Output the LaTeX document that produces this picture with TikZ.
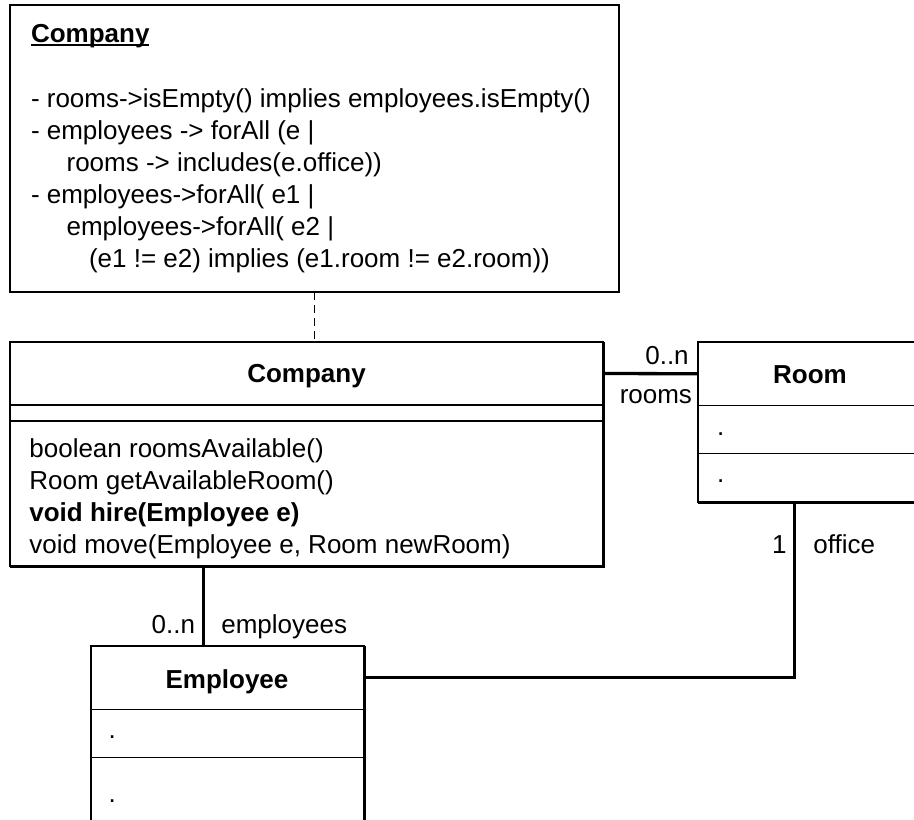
\documentclass[tikz,border=0pt]{standalone}
\usepackage{fontspec}
\setmainfont{Liberation Sans}
\begin{document}
\begin{tikzpicture}[x=1pt,y=-1pt,
  every node/.style={inner sep=0pt, outer sep=0pt, font=\fontsize{26}{32}\selectfont},
  frame/.style={draw, line width=1.8pt, anchor=north west},
  comp/.style={anchor=north west},
  sepline/.style={line width=1.4pt},
  heavy/.style={line width=3pt},
  assoc/.style={line width=3.3pt},
  dashline/.style={line width=1.6pt, dash pattern=on 8pt off 5pt},
  txt/.style={anchor=base west},
  ttl/.style={anchor=base, font=\fontsize{26}{32}\selectfont\bfseries}]
\useasboundingbox (0,0) rectangle (914,820);
\clip (0,0) rectangle (914,820);

% ---------- note ----------
\node[frame, minimum width=609pt, minimum height=287pt] (note) at (10,5) {};
\node[txt, font=\fontsize{26}{32}\selectfont\bfseries] (nt) at (31,42) {Company};
\draw[line width=2pt] ([yshift=-2.5pt]nt.base west) -- ([yshift=-2.5pt]nt.base east);
\node[txt] (n1) at (31,107) {- rooms->isEmpty() implies employees.isEmpty()};
\node[txt] (n2) at (31,139) {- employees -> forAll (e |};
\node[txt] (n3) at (66.6,171) {rooms -> includes(e.office))};
\node[txt] (n4) at (31,203) {- employees->forAll( e1 |};
\node[txt] (n5) at (66.6,235) {employees->forAll( e2 |};
\node[txt] (n6) at (89,267) {(e1 != e2) implies (e1.room != e2.room))};

% ---------- Company class ----------
\node[frame, minimum width=593pt, minimum height=224pt] (company) at (10,342) {};
\node[comp, minimum width=593pt, minimum height=63pt] (ct) at (10,342) {};
\node[comp, minimum width=593pt, minimum height=16pt] (ca) at (ct.south west) {};
\draw[sepline] (ct.south west) -- (ct.south east);
\draw[sepline] (ca.south west) -- (ca.south east);
\draw[heavy] ([xshift=0.6pt]company.north east) -- ([xshift=0.6pt,yshift=-0.6pt]company.south east) -- ([yshift=-0.6pt]company.south west);
\node[ttl] (ctitle) at (306.5,382) {Company};
\node[txt] (c1) at (29.4,457) {boolean roomsAvailable()};
\node[txt] (c2) at (29.4,489) {Room getAvailableRoom()};
\node[txt, font=\fontsize{26}{32}\selectfont\bfseries] (c3) at (29.4,521) {void hire(Employee e)};
\node[txt] (c4) at (29.4,553) {void move(Employee e, Room newRoom)};

% ---------- Room class ----------
\node[frame, minimum width=224pt, minimum height=160pt] (room) at (698,342) {};
\node[comp, minimum width=224pt, minimum height=63.5pt] (rt) at (698,342) {};
\node[comp, minimum width=224pt, minimum height=48pt] (ra) at (rt.south west) {};
\draw[sepline] (rt.south west) -- (rt.south east);
\draw[sepline] (ra.south west) -- (ra.south east);
\draw[heavy] ([yshift=-0.6pt]room.south west) -- ([yshift=-0.6pt]room.south east);
\node[ttl] (rtitle) at (810,383) {Room};
\node[txt] (r1) at (717,435) {.};
\node[txt] (r2) at (717,482.5) {.};

% ---------- Employee class ----------
\node[frame, minimum width=273pt, minimum height=200pt] (employee) at (90.7,646) {};
\node[comp, minimum width=273pt, minimum height=63.5pt] (et) at (90.7,646) {};
\node[comp, minimum width=273pt, minimum height=48pt] (ea) at (et.south west) {};
\draw[sepline] (et.south west) -- (et.south east);
\draw[sepline] (ea.south west) -- (ea.south east);
\draw[heavy] ([xshift=0.6pt]employee.north east) -- ([xshift=0.6pt]employee.south east);
\node[ttl] (etitle) at (227,688) {Employee};
\node[txt] (e1) at (108.6,738) {.};
\node[txt] (e2) at (108.6,802.5) {.};

% ---------- connectors ----------
\draw[dashline] (note.south) -- (note.south |- company.north);
\draw[assoc] (ct.east) -- (rt.west);
\coordinate (eu) at ([xshift=112.6pt]employee.north west);
\draw[assoc] (company.south -| eu) -- (eu);
\coordinate (rd) at ([xshift=96.3pt]room.south west);
\draw[assoc] (rd) |- (et.east);

% ---------- association labels ----------
\node[anchor=base east] (m1) at (688.7,364) {0..n};
\node[anchor=base east] (l1) at (692,403) {rooms};
\node[anchor=base east] (m2) at (786.5,553) {1};
\node[anchor=base west] (l2) at (813.4,553) {office};
\node[anchor=base east] (m3) at (195,633) {0..n};
\node[anchor=base west] (l3) at (221.3,633) {employees};
\end{tikzpicture}
\end{document}
